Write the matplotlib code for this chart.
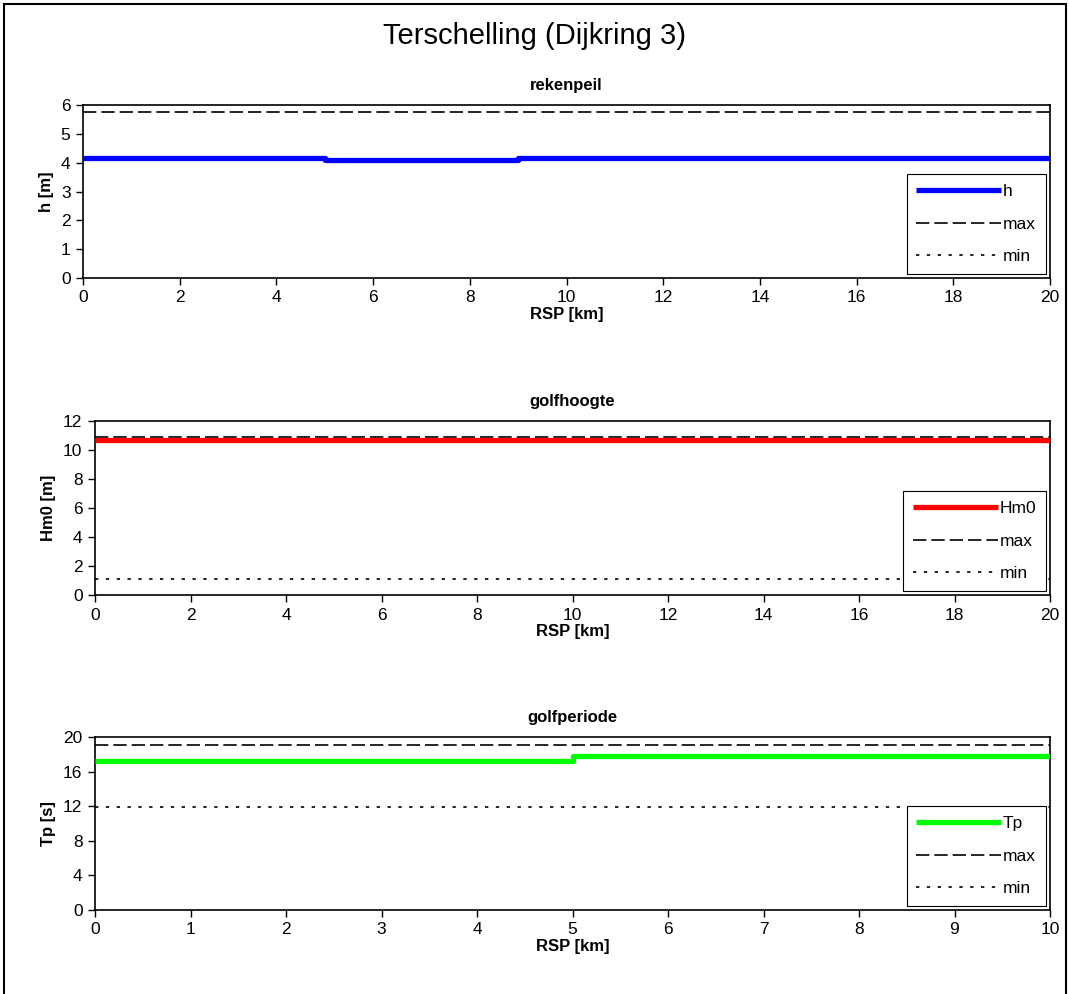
import matplotlib.pyplot as plt
import matplotlib.patches as mpatches

plt.rcParams['font.family'] = ['Liberation Sans', 'DejaVu Sans']

# rekenpeil
rsp_h = [0, 5, 9, 20]
h = [4.16, 4.08, 4.16, 4.16]
h_max = 5.76
h_min = 4.08

# golfhoogte
rsp_hm0 = [0, 20]
hm0 = [10.69, 10.69]
hm0_max = 10.92
hm0_min = 1.1

# golfperiode
rsp_tp = [0, 5, 10]
tp = [17.2, 17.75, 17.75]
tp_max = 19.1
tp_min = 11.95

W, H = 1069, 994
fig = plt.figure(figsize=(W / 100, H / 100), dpi=100)

# outer frame (bottom edge cut off like the original)
fig.patches.append(mpatches.Rectangle((4 / W, -0.01), (1066 - 4) / W, (990 + 10) / H,
                                      transform=fig.transFigure, fill=False,
                                      edgecolor='black', linewidth=1.5))

fig.text(0.5, 1 - 36 / H, 'Terschelling (Dijkring 3)', ha='center', va='center', fontsize=21)


def px_axes(left, right, top, bottom):
    return fig.add_axes([left / W, 1 - bottom / H, (right - left) / W, (bottom - top) / H])


panels = [
    dict(box=(83, 1050, 105, 278), x=rsp_h, y=h, ymax=h_max, ymin=h_min, color='#0000ff',
         label='h', title='rekenpeil', ylabel='h [m]', ylim=(0, 6), yticks=range(0, 7, 1),
         xlim=(0, 20), xticks=range(0, 21, 2)),
    dict(box=(95, 1050, 421, 595), x=rsp_hm0, y=hm0, ymax=hm0_max, ymin=hm0_min, color='#ff0000',
         label='Hm0', title='golfhoogte', ylabel='Hm0 [m]', ylim=(0, 12), yticks=range(0, 13, 2),
         xlim=(0, 20), xticks=range(0, 21, 2)),
    dict(box=(95, 1050, 737, 910), x=rsp_tp, y=tp, ymax=tp_max, ymin=tp_min, color='#00ff00',
         label='Tp', title='golfperiode', ylabel='Tp [s]', ylim=(0, 20), yticks=range(0, 21, 4),
         xlim=(0, 10), xticks=range(0, 11, 1)),
]

for p in panels:
    ax = px_axes(*p['box'])
    x0, x1 = p['xlim']
    ax.plot(p['x'], p['y'], color=p['color'], linewidth=3.8, drawstyle='steps-post',
            label=p['label'], solid_capstyle='butt', zorder=3)
    ax.plot([x0, x1], [p['ymax'], p['ymax']], color='black', linewidth=1.2,
            dashes=(8, 3), label='max', zorder=2)
    ax.plot([x0, x1], [p['ymin'], p['ymin']], color='black', linewidth=1.2,
            dashes=(2, 4.5), label='min', zorder=2)
    ax.set_xlim(x0, x1)
    ax.set_ylim(*p['ylim'])
    ax.set_xticks(list(p['xticks']))
    ax.set_yticks(list(p['yticks']))
    ax.tick_params(direction='out', length=5, width=1, labelsize=12.5, pad=4)
    for s in ax.spines.values():
        s.set_linewidth(1.2)
        s.set_color('black')
    ax.set_title(p['title'], fontsize=12, fontweight='bold', pad=11)
    ax.set_xlabel('RSP [km]', fontsize=12, fontweight='bold', labelpad=1)
    ax.set_ylabel(p['ylabel'], fontsize=12, fontweight='bold', labelpad=5)
    leg = ax.legend(loc='lower right', fontsize=12.5, handlelength=4.9, handletextpad=0.1,
                    labelspacing=1.0, borderpad=0.55, borderaxespad=0.25,
                    fancybox=False, framealpha=1)
    leg.get_frame().set_edgecolor('black')
    leg.get_frame().set_linewidth(0.8)

fig.savefig('out.png', dpi=100)
